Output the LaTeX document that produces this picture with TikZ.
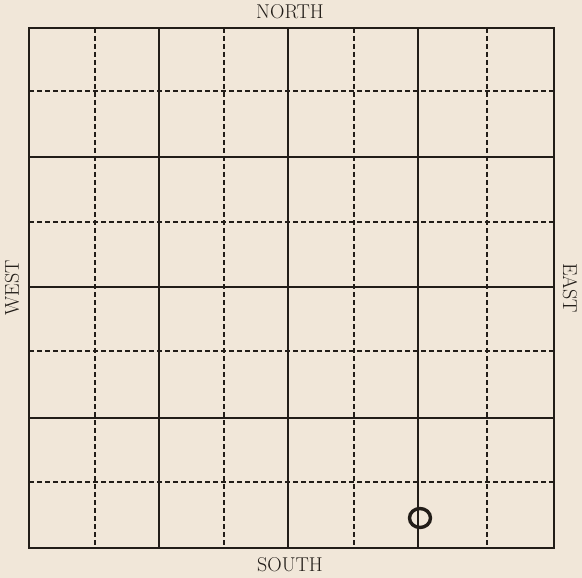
\documentclass[tikz,border=0pt]{standalone}
\usepackage{tikz}
\usetikzlibrary{positioning}
\definecolor{paper}{RGB}{241,231,217}
\definecolor{ink}{RGB}{34,29,24}

\begin{document}
\begin{tikzpicture}[x=1pt,y=-1pt,ink]
\fill[paper] (0,0) rectangle (582,578);
\useasboundingbox (0,0) rectangle (582,578);
\tikzset{dashline/.style={line width=1.3pt,dash pattern=on 5pt off 3pt},
  mainline/.style={line width=2pt},
  label/.style={font=\fontsize{20}{22}\selectfont}}
\foreach \x in {95,224,354,487} \draw[dashline] (\x,28)--(\x,548);
\foreach \y in {91,222,351,482} \draw[dashline] (29,\y)--(554,\y);
\foreach \x in {159,288,418} \draw[mainline] (\x,28)--(\x,548);
\foreach \y in {157,287,418} \draw[mainline] (29,\y)--(554,\y);
\draw[line width=2.8pt] (29,28) rectangle (554,548);
\draw[line width=3.4pt] (420,518) ellipse (10.5 and 9.5);
\node[label] (north) at (290,12) {NORTH};
\node[label] (south) at (290,565) {SOUTH};
\node[label,rotate=90] (west) at (12,288) {WEST};
\node[label,rotate=-90] (east) at (570,288) {EAST};
\end{tikzpicture}
\end{document}
